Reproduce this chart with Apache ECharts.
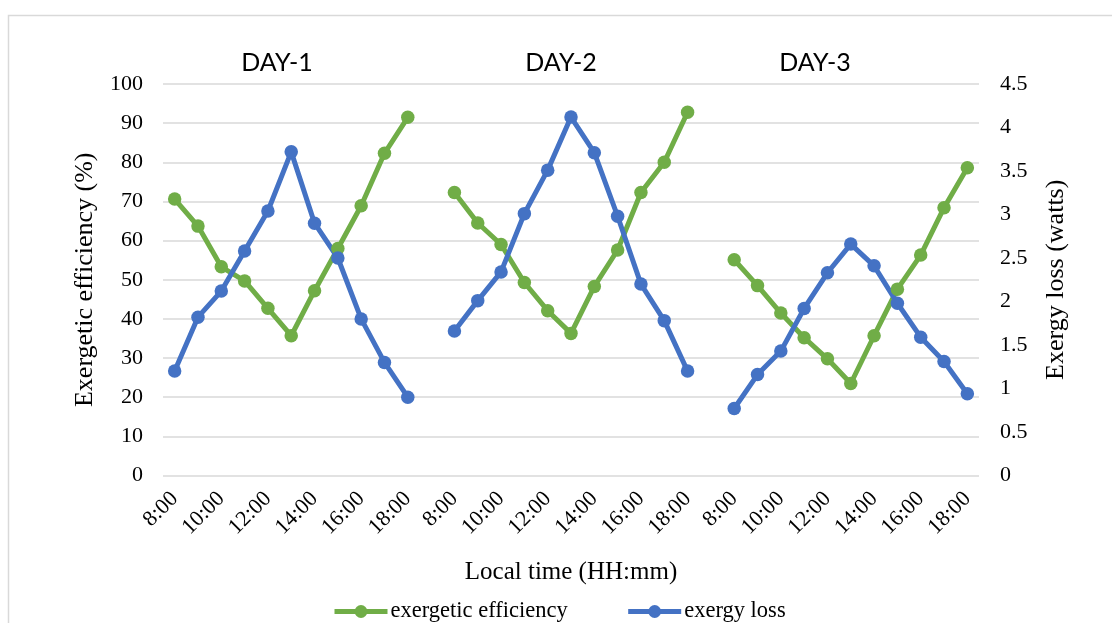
<!DOCTYPE html>
<html>
<head>
<meta charset="utf-8">
<script src="https://cdn.jsdelivr.net/npm/echarts@6/dist/echarts.min.js"></script>
<style>
  html, body { margin: 0; padding: 0; background: #fff; }
  #chart { width: 1112px; height: 623px; }
</style>
</head>
<body>
<div id="chart"></div>
<script>
// Hourly readings, 8:00 to 18:00, for three test days
const hours = ['8:00', '9:00', '10:00', '11:00', '12:00', '13:00', '14:00', '15:00', '16:00', '17:00', '18:00'];
const dayNames = ['DAY-1', 'DAY-2', 'DAY-3'];

// Exergetic efficiency (%)
const effDay1 = [70.6, 63.7, 53.3, 49.7, 42.7, 35.7, 47.2, 58.0, 68.9, 82.3, 91.5];
const effDay2 = [72.3, 64.5, 59.0, 49.3, 42.1, 36.3, 48.3, 57.6, 72.3, 80.0, 92.8];
const effDay3 = [55.1, 48.5, 41.5, 35.2, 29.8, 23.5, 35.7, 47.6, 56.3, 68.4, 78.6];

// Exergy loss (watts)
const lossDay1 = [1.20, 1.82, 2.12, 2.58, 3.04, 3.72, 2.90, 2.50, 1.80, 1.30, 0.90];
const lossDay2 = [1.66, 2.01, 2.34, 3.01, 3.51, 4.12, 3.71, 2.98, 2.20, 1.78, 1.20];
const lossDay3 = [0.77, 1.16, 1.43, 1.92, 2.33, 2.66, 2.41, 1.98, 1.59, 1.31, 0.94];

// Days are laid out side by side with one empty slot between them
function joinDays(parts, gap) {
  const out = [];
  parts.forEach((p, i) => {
    if (i > 0) out.push(gap);
    out.push(...p);
  });
  return out;
}
const categories = joinDays([hours, hours, hours], '');
const effData = joinDays([effDay1, effDay2, effDay3], null);
const lossData = joinDays([lossDay1, lossDay2, lossDay3], null);

const GREEN = '#70ad47';
const BLUE = '#4472c4';
const SERIF = '"Liberation Serif", "Times New Roman", serif';
const GRID = '#d9d9d9';

const chart = echarts.init(document.getElementById('chart'), null, { renderer: 'canvas' });

chart.setOption({
  backgroundColor: '#fff',
  animation: false,
  textStyle: { fontFamily: SERIF, color: '#000' },
  grid: { left: 163, right: 133, top: 84, bottom: 147.5, containLabel: false },
  graphic: [
    {
      type: 'rect', silent: true, z: -10,
      shape: { x: 8.5, y: 15.5, width: 1300, height: 800 },
      style: { fill: 'none', stroke: '#d9d9d9', lineWidth: 1.5 }
    },
    ...dayNames.map((name, i) => ({
      type: 'text', silent: true,
      x: [277, 561, 815][i], y: 75,
      style: {
        text: name, fill: '#000',
        font: '400 25px Lato, "Noto Sans", sans-serif',
        align: 'center', verticalAlign: 'bottom'
      }
    }))
  ],
  legend: {
    left: 327, top: 595,
    itemWidth: 53, itemHeight: 16, itemGap: 58,
    lineStyle: { width: 5 },
    textStyle: { fontFamily: SERIF, fontSize: 22.5, color: '#000', padding: [0, 0, 0, -2] },
    data: ['exergetic efficiency', 'exergy loss']
  },
  xAxis: {
    type: 'category',
    data: categories,
    boundaryGap: true,
    name: 'Local time (HH:mm)',
    nameLocation: 'middle',
    nameGap: 84,
    nameTextStyle: { fontFamily: SERIF, fontSize: 25, color: '#000' },
    axisLine: { show: false },
    axisTick: { show: false },
    axisLabel: {
      interval: 1, rotate: 45, margin: 20,
      fontFamily: SERIF, fontSize: 22, color: '#000'
    },
    splitLine: { show: false }
  },
  yAxis: [
    {
      type: 'value', min: 0, max: 100, interval: 10,
      name: 'Exergetic efficiency (%)',
      nameLocation: 'middle', nameRotate: 90, nameGap: 65,
      nameTextStyle: { fontFamily: SERIF, fontSize: 26, color: '#000' },
      axisLine: { show: false }, axisTick: { show: false },
      axisLabel: { margin: 20, fontFamily: SERIF, fontSize: 22, color: '#000' },
      splitLine: { show: true, lineStyle: { color: GRID, width: 1.5 } }
    },
    {
      type: 'value', min: 0, max: 4.5, interval: 0.5,
      name: 'Exergy loss (watts)',
      nameLocation: 'middle', nameRotate: 90, nameGap: 64,
      nameTextStyle: { fontFamily: SERIF, fontSize: 26, color: '#000' },
      axisLine: { show: false }, axisTick: { show: false },
      axisLabel: { margin: 21, fontFamily: SERIF, fontSize: 22, color: '#000' },
      splitLine: { show: false }
    }
  ],
  series: [
    {
      name: 'exergetic efficiency',
      type: 'line',
      yAxisIndex: 0,
      data: effData,
      connectNulls: false,
      symbol: 'circle', symbolSize: 13.5,
      lineStyle: { color: GREEN, width: 5 },
      itemStyle: { color: GREEN }
    },
    {
      name: 'exergy loss',
      type: 'line',
      yAxisIndex: 1,
      data: lossData,
      connectNulls: false,
      symbol: 'circle', symbolSize: 13.5,
      lineStyle: { color: BLUE, width: 5 },
      itemStyle: { color: BLUE }
    }
  ]
});
</script>
</body>
</html>
